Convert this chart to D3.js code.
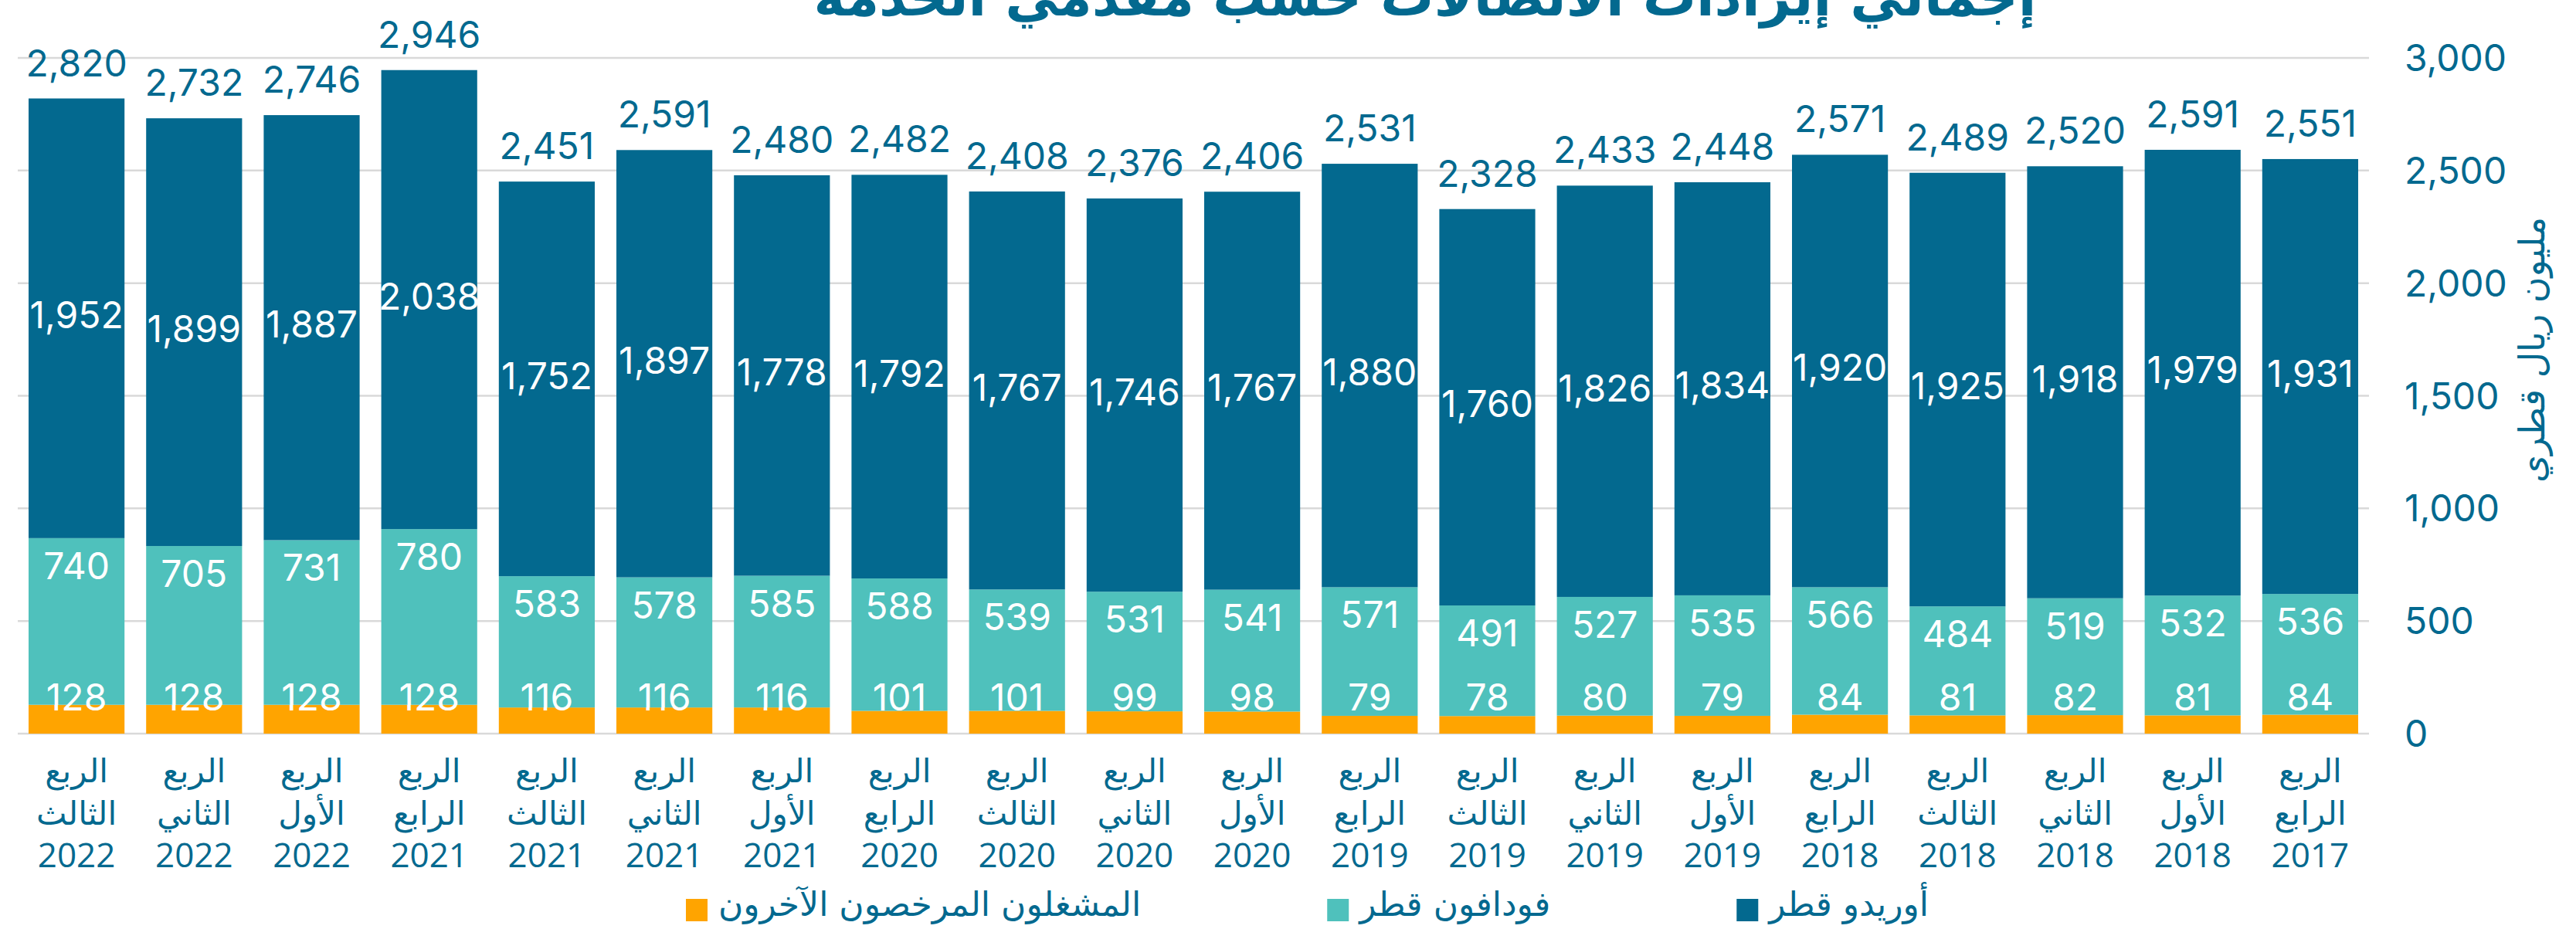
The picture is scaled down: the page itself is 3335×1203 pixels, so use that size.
<!DOCTYPE html>
<html>
<head>
<meta charset="utf-8">
<script src="https://cdn.jsdelivr.net/npm/d3@7"></script>
<style>
  html, body { margin: 0; padding: 0; background: #fff; }
  svg { display: block; }
</style>
</head>
<body>
<div id="chart"></div>
<script>
// quarters, left to right as drawn (newest first)
const quarterNames = ['الثالث', 'الثاني', 'الأول', 'الرابع', 'الثالث', 'الثاني', 'الأول', 'الرابع', 'الثالث', 'الثاني',
    'الأول', 'الرابع', 'الثالث', 'الثاني', 'الأول', 'الرابع', 'الثالث', 'الثاني', 'الأول', 'الرابع'];
const years = ['2022', '2022', '2022', '2021', '2021', '2021', '2021', '2020', '2020', '2020',
    '2020', '2019', '2019', '2019', '2019', '2018', '2018', '2018', '2018', '2017'];

const ooredoo = [1952, 1899, 1887, 2038, 1752, 1897, 1778, 1792, 1767, 1746, 1767, 1880, 1760, 1826, 1834, 1920, 1925, 1918, 1979, 1931];
const vodafone = [740, 705, 731, 780, 583, 578, 585, 588, 539, 531, 541, 571, 491, 527, 535, 566, 484, 519, 532, 536];
const others = [128, 128, 128, 128, 116, 116, 116, 101, 101, 99, 98, 79, 78, 80, 79, 84, 81, 82, 81, 84];
const totals = [2820, 2732, 2746, 2946, 2451, 2591, 2480, 2482, 2408, 2376, 2406, 2531, 2328, 2433, 2448, 2571, 2489, 2520, 2591, 2551];

const yTicks = [0, 500, 1000, 1500, 2000, 2500, 3000];

const seriesNames = {
    others: 'المشغلون المرخصون الآخرون',
    vodafone: 'فودافون قطر',
    ooredoo: 'أوريدو قطر'
};
const colors = { others: '#FFA400', vodafone: '#4FC1BC', ooredoo: '#03698F' };
const textColor = '#03698F';
const numFont = 'Inter, "Open Sans", sans-serif';
const arFont = '"DejaVu Sans", sans-serif';

const width = 3335, height = 1203;

const svg = d3.select('#chart').append('svg')
    .attr('width', width)
    .attr('height', height);

const rows = quarterNames.map((q, i) => ({
    i: i,
    others: others[i],
    vodafone: vodafone[i],
    ooredoo: ooredoo[i],
    total: totals[i]
}));

const x = d3.scaleBand()
    .domain(rows.map(d => d.i))
    .range([23, 3067])
    .paddingInner(0.184)
    .paddingOuter(0.092);

const y = d3.scaleLinear()
    .domain([0, 3000])
    .range([950, 75]);

// gridlines
svg.append('g')
    .selectAll('line')
    .data(yTicks)
    .join('line')
    .attr('x1', 23)
    .attr('x2', 3067)
    .attr('y1', d => y(d))
    .attr('y2', d => y(d))
    .attr('stroke', '#d9d9d9')
    .attr('stroke-width', 2.5);

// right axis labels
svg.append('g')
    .selectAll('text')
    .data(yTicks)
    .join('text')
    .attr('x', 3113)
    .attr('y', d => y(d) + 17)
    .attr('fill', textColor)
    .style('font-family', numFont)
    .style('font-size', '48px')
    .text(d => d3.format(',')(d));

svg.append('text')
    .attr('transform', 'translate(3294,453) rotate(-90)')
    .attr('text-anchor', 'middle')
    .attr('fill', textColor)
    .style('font-family', arFont)
    .style('font-size', '46px')
    .text('مليون ريال قطري');

// stacked bars
const keys = ['others', 'vodafone', 'ooredoo'];
const stacked = d3.stack().keys(keys)(rows);

svg.append('g')
    .selectAll('g')
    .data(stacked)
    .join('g')
    .attr('fill', s => colors[s.key])
    .selectAll('rect')
    .data(s => s)
    .join('rect')
    .attr('x', d => x(d.data.i))
    .attr('width', x.bandwidth())
    .attr('y', d => y(d[1]))
    .attr('height', d => y(d[0]) - y(d[1]));

// value labels
const labels = svg.append('g').style('font-family', numFont).style('font-size', '48px')
    .attr('text-anchor', 'middle');

const cx = d => x(d.i) + x.bandwidth() / 2;

labels.selectAll('.tot')
    .data(rows)
    .join('text')
    .attr('class', 'tot')
    .attr('x', cx)
    .attr('y', d => y(d.total) - 29)
    .attr('fill', textColor)
    .text(d => d3.format(',')(d.total));

labels.selectAll('.oo')
    .data(rows)
    .join('text')
    .attr('class', 'oo')
    .attr('x', cx)
    .attr('y', d => (y(d.others + d.vodafone) + y(d.others + d.vodafone + d.ooredoo)) / 2 + 13)
    .attr('fill', '#fff')
    .text(d => d3.format(',')(d.ooredoo));

labels.selectAll('.vo')
    .data(rows)
    .join('text')
    .attr('class', 'vo')
    .attr('x', cx)
    .attr('y', d => y(d.others + d.vodafone) + 53)
    .attr('fill', '#fff')
    .text(d => d.vodafone);

labels.selectAll('.ot')
    .data(rows)
    .join('text')
    .attr('class', 'ot')
    .attr('x', cx)
    .attr('y', y(0) - 30)
    .attr('fill', '#fff')
    .text(d => d.others);

// x labels: three lines in one text element
const xl = svg.append('g').attr('text-anchor', 'middle').attr('fill', textColor)
    .style('font-size', '42px')
    .selectAll('text')
    .data(rows)
    .join('text')
    .attr('y', 1013);

xl.append('tspan')
    .attr('x', cx)
    .style('font-family', arFont)
    .text('الربع');

xl.append('tspan')
    .attr('x', cx)
    .attr('dy', 55)
    .style('font-family', arFont)
    .text(d => quarterNames[d.i]);

xl.append('tspan')
    .attr('x', cx)
    .attr('dy', 55)
    .style('font-family', '"Open Sans", sans-serif')
    .style('font-size', '44px')
    .text(d => years[d.i]);

// title (cut off at the top in the source)
svg.append('text')
    .attr('x', 1845)
    .attr('y', 20)
    .attr('text-anchor', 'middle')
    .attr('fill', textColor)
    .style('font-family', arFont)
    .style('font-weight', 'bold')
    .style('font-size', '69px')
    .text('إجمالي إيرادات الاتصالات حسب مقدمي الخدمة');

// legend
const legend = svg.append('g').style('font-family', arFont).style('font-size', '44px');
let lx = 888;
keys.forEach(k => {
    legend.append('rect')
        .attr('x', lx)
        .attr('y', 1164)
        .attr('width', 28)
        .attr('height', 29)
        .attr('fill', colors[k]);
    const t = legend.append('text')
        .attr('x', lx + 42)
        .attr('y', 1186)
        .attr('fill', textColor)
        .text(seriesNames[k]);
    lx += 42 + t.node().getComputedTextLength() + 241;
});
</script>
</body>
</html>
